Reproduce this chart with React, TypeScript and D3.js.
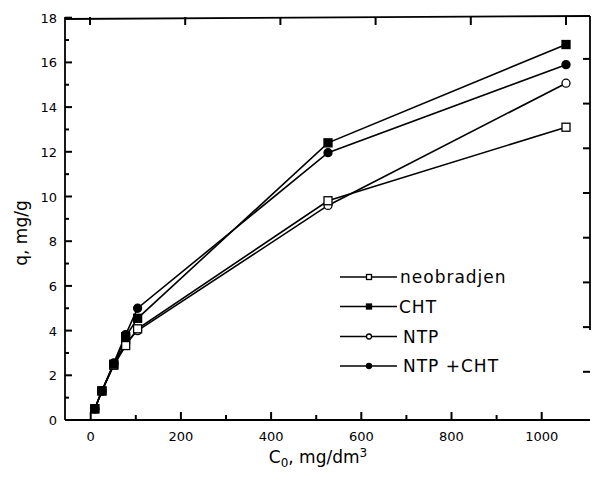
import React, { useEffect, useRef } from 'react';
import * as d3 from 'd3';

// concentrations C0, mg/dm3
const c0 = [10, 25, 50, 75, 100, 500, 1000];

// q, mg/g per sample
const neobradjen = [0.5, 1.3, 2.45, 3.33, 4.08, 9.81, 13.1];
const cht = [0.5, 1.3, 2.5, 3.73, 4.55, 12.4, 16.8];
const ntp = [0.5, 1.3, 2.5, 3.45, 4.0, 9.6, 15.07];
const ntpCht = [0.5, 1.3, 2.55, 3.82, 5.0, 11.96, 15.9];

const seriesNames = ['neobradjen', 'CHT', 'NTP', 'NTP +CHT'];
const seriesValues = [neobradjen, cht, ntp, ntpCht];
const seriesMarkers = ['openSquare', 'square', 'openCircle', 'circle'];

const xTicks = [0, 200, 400, 600, 800, 1000];
const yTicks = [0, 2, 4, 6, 8, 10, 12, 14, 16, 18];

const App = () => {
  const ref = useRef<SVGSVGElement>(null);

  useEffect(() => {
    const svg = d3.select(ref.current);
    svg.selectAll('*').remove();

    const font = "'DejaVu Sans', Verdana, sans-serif";

    // the scanned figure has slightly different scales on its top/bottom axes
    const x = d3.scaleLinear().domain([0, 1000]).range([90, 566]);
    const xBottom = d3.scaleLinear().domain([0, 1000]).range([90.7, 541.7]);
    const y = d3.scaleLinear().domain([0, 18]).range([420, 17.7]);
    const yRight = d3.scaleLinear().domain([0, 18]).range([416.5, 14.2]);

    const left = 65, right = 590, top = 18, bottom = 420;

    // frame
    const frame = svg.append('g').attr('stroke', 'black').attr('stroke-width', 1.8).attr('fill', 'none');
    frame.append('line').attr('x1', left).attr('x2', left).attr('y1', top - 1).attr('y2', bottom);
    frame.append('line').attr('x1', left).attr('x2', right).attr('y1', bottom).attr('y2', bottom);
    frame.append('line').attr('x1', left).attr('x2', right).attr('y1', top + 1).attr('y2', top - 2);
    frame.append('line').attr('x1', right).attr('x2', right).attr('y1', top - 2).attr('y2', 330);

    // left ticks (inward), majors at even values
    const ticks = svg.append('g').attr('stroke', 'black').attr('stroke-width', 2);
    d3.range(0, 19).forEach(v => {
      const len = v % 2 === 0 ? 7 : 4;
      ticks.append('line').attr('x1', left).attr('x2', left + len).attr('y1', y(v)).attr('y2', y(v));
    });
    // bottom ticks (inward)
    d3.range(0, 1001, 100).forEach(v => {
      const len = v % 200 === 0 ? 8 : 5;
      ticks.append('line').attr('x1', xBottom(v)).attr('x2', xBottom(v)).attr('y1', bottom).attr('y2', bottom - len);
    });
    // top ticks
    xTicks.forEach(v => {
      ticks.append('line').attr('x1', x(v)).attr('x2', x(v)).attr('y1', top - 1).attr('y2', top + 7);
    });
    // right ticks
    yTicks.filter(v => v > 0 && v < 18).forEach(v => {
      ticks.append('line').attr('x1', right).attr('x2', right - 7).attr('y1', yRight(v)).attr('y2', yRight(v));
    });

    // tick labels
    svg.append('g').selectAll('text').data(yTicks).enter().append('text')
      .attr('x', 57).attr('y', d => y(d) + 5)
      .attr('text-anchor', 'end').attr('font-family', font).attr('font-size', 13)
      .text(d => d);
    svg.append('g').selectAll('text').data(xTicks).enter().append('text')
      .attr('x', d => xBottom(d)).attr('y', 441)
      .attr('text-anchor', 'middle').attr('font-family', font).attr('font-size', 13)
      .text(d => d);

    // axis titles
    svg.append('text')
      .attr('transform', 'translate(27, 233) rotate(-90)')
      .attr('text-anchor', 'middle').attr('font-family', font).attr('font-size', 17)
      .text('q, mg/g');
    const xt = svg.append('text')
      .attr('x', 318).attr('y', 463)
      .attr('text-anchor', 'middle').attr('font-family', font).attr('font-size', 17);
    xt.append('tspan').text('C');
    xt.append('tspan').attr('dy', 4).attr('font-size', 12).text('0');
    xt.append('tspan').attr('dy', -4).text(', mg/dm');
    xt.append('tspan').attr('dy', -6).attr('font-size', 12).text('3');

    const drawMarker = (g: any, kind: string, cx: number, cy: number, s: number) => {
      if (kind === 'openSquare' || kind === 'square') {
        g.append('rect')
          .attr('x', cx - s / 2).attr('y', cy - s / 2).attr('width', s).attr('height', s)
          .attr('fill', kind === 'square' ? 'black' : 'white')
          .attr('stroke', 'black').attr('stroke-width', 1.3);
      } else {
        g.append('circle')
          .attr('cx', cx).attr('cy', cy).attr('r', s / 2)
          .attr('fill', kind === 'circle' ? 'black' : 'white')
          .attr('stroke', 'black').attr('stroke-width', 1.3);
      }
    };

    const line = d3.line<number>().x((_, i) => x(c0[i])).y(d => y(d));
    const plot = svg.append('g');
    seriesValues.forEach(vals => {
      plot.append('path').attr('d', line(vals)).attr('fill', 'none')
        .attr('stroke', 'black').attr('stroke-width', 1.6);
    });
    [2, 0, 1, 3].forEach(si => {
      seriesValues[si].forEach((v, i) => drawMarker(plot, seriesMarkers[si], x(c0[i]), y(v), 8));
    });

    // legend
    const rowY = [277, 306.5, 336.5, 366];
    const textX = [400, 399, 403, 403];
    const legend = svg.append('g');
    seriesNames.forEach((name, i) => {
      legend.append('line').attr('x1', 340).attr('x2', 397).attr('y1', rowY[i]).attr('y2', rowY[i])
        .attr('stroke', 'black').attr('stroke-width', 1.4);
      drawMarker(legend, seriesMarkers[i], 369, rowY[i], 5);
      legend.append('text')
        .attr('x', textX[i]).attr('y', rowY[i] + 6)
        .attr('font-family', font).attr('font-size', 17).attr('letter-spacing', 1)
        .text(name);
    });
  }, []);

  return (
    <svg ref={ref} width={592} height={483}
      style={{ position: 'absolute', left: 0, top: 0, background: 'white' }} />
  );
};

export default App;
